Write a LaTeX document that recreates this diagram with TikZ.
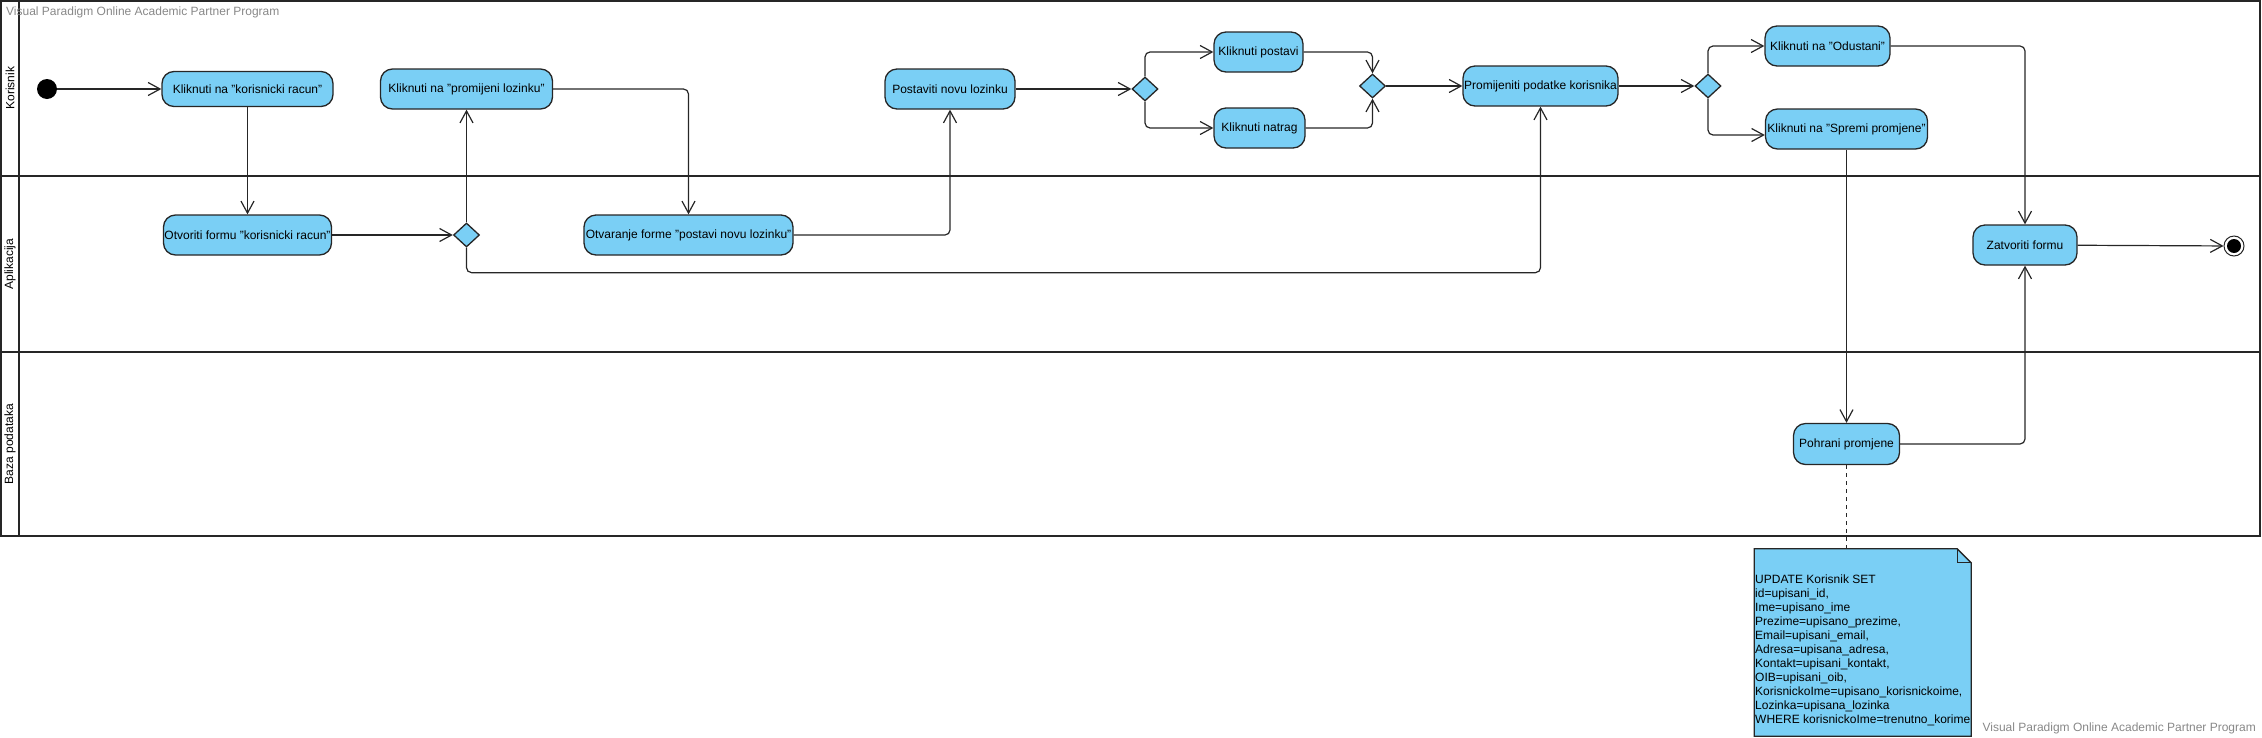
\documentclass[tikz,border=0pt]{standalone}
\usepackage{fontspec}
\setmainfont{Liberation Sans}
\usepackage{tikz}
\usetikzlibrary{arrows.meta}
\usetikzlibrary{shapes.geometric}
\usetikzlibrary{backgrounds}
\definecolor{vpblue}{RGB}{122,207,245}
\definecolor{vpline}{RGB}{38,38,38}
\definecolor{vpgray}{RGB}{136,136,136}
\tikzset{
  akcija/.style={draw=vpline, line width=1.3pt, fill=vpblue, rounded corners=12pt, minimum height=40pt, inner sep=0pt},
  odluka/.style={draw=vpline, line width=1.3pt, fill=vpblue, diamond, minimum width=26pt, minimum height=24pt, inner sep=0pt},
  tok/.style={draw=vpline, line width=1.2pt, rounded corners=5pt, -{Straight Barb[length=12pt,width=13pt]}},
  staza/.style={draw=vpline, line width=2pt},
  every edge/.style={tok},
}

\begin{document}
\begin{tikzpicture}[x=1pt, y=-1pt, font=\fontsize{12}{14}\selectfont]
    \useasboundingbox (0,0) rectangle (2262,737);

    % staze
    \draw[staza] (1,1) rectangle (2260,536);
    \draw[staza] (19,1) -- (19,536);
    \draw[staza] (1,176) -- (2260,176);
    \draw[staza] (1,352) -- (2260,352);
    \node[rotate=90, inner sep=0pt] at (10, 88) (lKorisnik) {Korisnik};
    \node[rotate=90, inner sep=0pt] at (10, 264) (lAplikacija) {Aplikacija};
    \node[rotate=90, inner sep=0pt] at (10, 444) (lBaza) {Baza podataka};
    \node[anchor=west, inner sep=0pt, text=vpgray] at (6, 12) (vpGore) {Visual Paradigm Online Academic Partner Program};
    \node[anchor=east, inner sep=0pt, text=vpgray] at (2256, 728) (vpDolje) {Visual Paradigm Online Academic Partner Program};

    % akcije
    \node[circle, fill=black, minimum size=20pt, inner sep=0pt] at (47, 89) (pocetak) {};
    \node[akcija, minimum width=171pt, minimum height=35pt] at (247.5, 89) (kKorRac) {Kliknuti na "korisnicki racun"};
    \node[akcija, minimum width=168pt] at (247.5, 235) (oKorRac) {Otvoriti formu "korisnicki racun"};
    \node[odluka] at (466.5, 235) (d1) {};
    \node[akcija, minimum width=172pt] at (466.5, 89) (kPromLoz) {Kliknuti na "promijeni lozinku"};
    \node[akcija, minimum width=209pt] at (688.5, 235) (oPostLoz) {Otvaranje forme "postavi novu lozinku"};
    \node[akcija, minimum width=130pt] at (950, 89) (postLoz) {Postaviti novu lozinku};
    \node[odluka] at (1145, 89) (d2) {};
    \node[akcija, minimum width=89pt] at (1258.5, 52) (kPostavi) {Kliknuti postavi};
    \node[akcija, minimum width=91pt] at (1259.5, 128) (kNatrag) {Kliknuti natrag};
    \node[odluka] at (1372.5, 86) (d3) {};
    \node[akcija, minimum width=155pt] at (1540.5, 86) (promPod) {Promijeniti podatke korisnika};
    \node[odluka] at (1708, 86) (d4) {};
    \node[akcija, minimum width=125pt] at (1827.5, 46) (kOdustani) {Kliknuti na "Odustani"};
    \node[akcija, minimum width=162pt] at (1846.5, 129) (kSpremi) {Kliknuti na "Spremi promjene"};
    \node[akcija, minimum width=104pt] at (2025, 245) (zatvori) {Zatvoriti formu};
    \node[circle, draw=vpline, line width=1pt, minimum size=20pt, inner sep=0pt] at (2234, 246) (kraj) {};
    \fill[black] (kraj.center) circle (7pt);
    \node[akcija, minimum width=106pt, minimum height=41pt] at (1846.5, 444) (pohrani) {Pohrani promjene};

    % biljeska
    \node[minimum width=216.5pt, minimum height=183pt, inner sep=0pt, align=left] at (1862.75, 642.5) (upit) {\strut\\
      UPDATE Korisnik SET\\
      id=upisani\_id,\\
      Ime=upisano\_ime\\
      Prezime=upisano\_prezime,\\
      Email=upisani\_email,\\
      Adresa=upisana\_adresa,\\
      Kontakt=upisani\_kontakt,\\
      OIB=upisani\_oib,\\
      KorisnickoIme=upisano\_korisnickoime,\\
      Lozinka=upisana\_lozinka\\
      WHERE korisnickoIme=trenutno\_korime};
    \begin{scope}[on background layer]
      \draw[fill=vpblue, draw=vpline, line width=1.3pt] ([yshift=2pt]upit.north west) -- ([xshift=-14pt,yshift=2pt]upit.north east) -- ([yshift=-12pt]upit.north east) -- ([yshift=-2pt]upit.south east) -- ([yshift=-2pt]upit.south west) -- cycle;
      \draw[vpline, line width=1pt] ([xshift=-14pt,yshift=2pt]upit.north east) |- ([yshift=-12pt]upit.north east);
    \end{scope}

    % tokovi
    \draw (pocetak) edge (kKorRac);
    \draw (kKorRac) edge (oKorRac);
    \draw (oKorRac) edge (d1);
    \draw (d1) edge (kPromLoz);
    \draw[tok] (d1.south) -- ++(0,25) -| (promPod.south);
    \draw[tok] (kPromLoz.east) -| (oPostLoz.north);
    \draw[tok] (oPostLoz.east) -| (postLoz.south);
    \draw (postLoz) edge (d2);
    \draw[tok] (d2.north) |- (kPostavi.west);
    \draw[tok] (d2.south) |- (kNatrag.west);
    \draw[tok] (kPostavi.east) -| (d3.north);
    \draw[tok] (kNatrag.east) -| (d3.south);
    \draw (d3) edge (promPod);
    \draw (promPod) edge (d4);
    \draw[tok] (d4.north) |- (kOdustani.west);
    \draw[tok] (d4.south) |- ([yshift=-6pt]kSpremi.west);
    \draw[tok] (kOdustani.east) -| (zatvori.north);
    \draw (kSpremi) edge (pohrani);
    \draw[tok] (pohrani.east) -| (zatvori.south);
    \draw (zatvori) edge (kraj);
    \draw[vpline, line width=1.5pt, dash pattern=on 4pt off 4pt] (pohrani.south) -- (pohrani.south |- upit.north);
\end{tikzpicture}
\end{document}
